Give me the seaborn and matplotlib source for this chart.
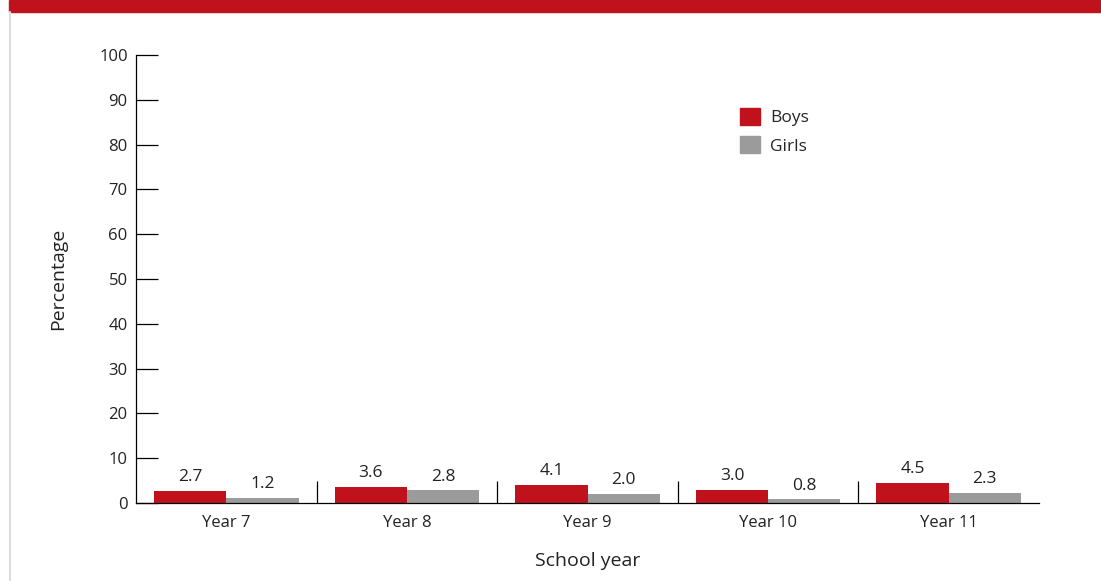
import pandas as pd
import matplotlib.pyplot as plt
import matplotlib.patches as mpatches
from matplotlib.lines import Line2D
from matplotlib.ticker import FixedLocator
import seaborn as sns

years = ["Year 7", "Year 8", "Year 9", "Year 10", "Year 11"]
boys = [2.7, 3.6, 4.1, 3.0, 4.5]
girls = [1.2, 2.8, 2.0, 0.8, 2.3]

RED = "#C0121D"
GREY = "#9B9B9B"


def main():
    df = pd.DataFrame({
        "year": years * 2,
        "pct": boys + girls,
        "sex": ["Boys"] * len(years) + ["Girls"] * len(years),
    })

    sns.set_style("white")
    plt.rcParams["font.family"] = ["Open Sans", "DejaVu Sans"]

    fig = plt.figure(figsize=(11.01, 5.81), dpi=100)
    ax = fig.add_axes([136 / 1101, 1 - 503 / 581, 903 / 1101, 448 / 581])

    sns.barplot(data=df, x="year", y="pct", hue="sex", order=years,
                hue_order=["Boys", "Girls"], palette=[RED, GREY],
                width=0.8, saturation=1, linewidth=0, ax=ax, legend=False)

    for cont in ax.containers:
        ax.bar_label(cont, fmt="%.1f", padding=4, fontsize=12.5, color="#222222")

    ax.set_ylim(0, 100)
    ax.set_xlim(-0.5, 4.5)
    ax.set_yticks(range(0, 101, 10))
    ax.tick_params(axis="y", left=True, direction="in", length=16, width=0.9,
                   labelsize=12, pad=6, colors="black")
    ax.tick_params(axis="x", which="major", bottom=False, labelsize=12, pad=5)
    ax.xaxis.set_minor_locator(FixedLocator([0.5, 1.5, 2.5, 3.5]))
    ax.tick_params(axis="x", which="minor", bottom=True, direction="in",
                   length=16, width=0.9, color="black")
    for lab in ax.get_xticklabels() + ax.get_yticklabels():
        lab.set_color("#222222")

    sns.despine(ax=ax)
    ax.spines["left"].set_color("black")
    ax.spines["bottom"].set_color("black")
    ax.spines["left"].set_linewidth(0.9)
    ax.spines["bottom"].set_linewidth(0.9)

    ax.set_xlabel("School year", fontsize=14, labelpad=15, color="#222222")
    ax.set_ylabel("Percentage", fontsize=14, labelpad=23, color="#222222")

    handles = [mpatches.Patch(color=RED, label="Boys"),
               mpatches.Patch(color=GREY, label="Girls")]
    fig.legend(handles=handles, loc="upper left",
               bbox_to_anchor=(740 / 1101, 1 - 108 / 581), frameon=False,
               fontsize=12.5, handlelength=1.15, handleheight=1.15,
               handletextpad=0.6, labelspacing=0.55, borderpad=0,
               borderaxespad=0)

    # red band at top and grey rule at left
    fig.patches.append(mpatches.Rectangle((9 / 1101, 1 - 12 / 581), 1, 12 / 581,
                                          transform=fig.transFigure,
                                          color=RED, zorder=0))
    fig.lines.append(Line2D([10 / 1101, 10 / 1101], [0, 1 - 12 / 581],
                            transform=fig.transFigure, color="#DDDDDD",
                            linewidth=1.5))

    fig.savefig("out.png", dpi=100)


if __name__ == "__main__":
    main()
